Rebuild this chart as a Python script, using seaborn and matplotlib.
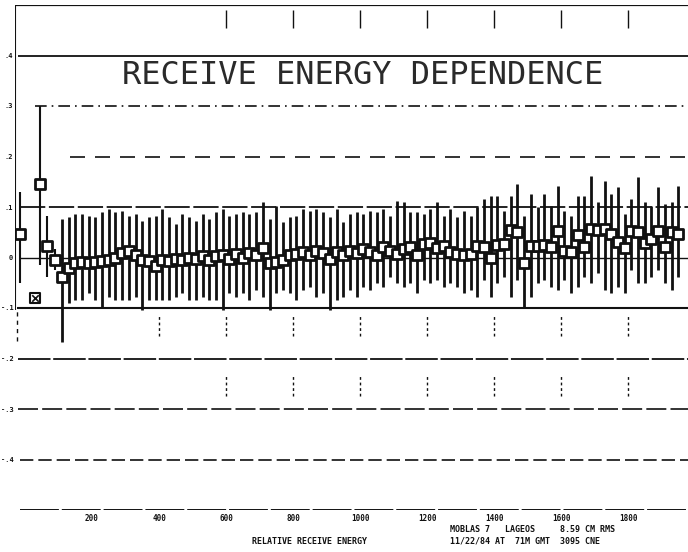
import numpy as np
import pandas as pd
import matplotlib
matplotlib.use("Agg")
import matplotlib.pyplot as plt
import seaborn as sns

# ---------------- data ----------------
energy = [110, 130, 150, 170, 190, 210, 230, 250, 270, 290,
          310, 330, 350, 370, 390, 410, 430, 450, 470, 490,
          510, 530, 550, 570, 590, 610, 630, 650, 670, 690,
          710, 730, 750, 770, 790, 810, 830, 850, 870, 890,
          910, 930, 950, 970, 990, 1010, 1030, 1050, 1070, 1090,
          1110, 1130, 1150, 1170, 1190, 1210, 1230, 1250, 1270, 1290,
          1310, 1330, 1350, 1370, 1390, 1410, 1430, 1450, 1470, 1490,
          1510, 1530, 1550, 1570, 1590, 1610, 1630, 1650, 1670, 1690,
          1710, 1730, 1750, 1770, 1790, 1810, 1830, 1850, 1870, 1890,
          1910, 1930, 1950]
residual = [-0.038, -0.020, -0.010, -0.008, -0.010, -0.008, -0.006, -0.004, 0.000, 0.008,
            0.012, 0.004, -0.004, -0.006, -0.016, -0.004, -0.006, -0.002, -0.004, 0.000,
            -0.002, 0.002, -0.004, 0.002, 0.004, -0.002, 0.006, 0.000, 0.008, 0.004,
            0.018, -0.010, -0.008, -0.004, 0.004, 0.006, 0.010, 0.004, 0.012, 0.008,
            -0.002, 0.010, 0.004, 0.012, 0.008, 0.016, 0.010, 0.004, 0.020, 0.012,
            0.006, 0.016, 0.020, 0.004, 0.026, 0.028, 0.018, 0.022, 0.010, 0.006,
            0.004, 0.006, 0.022, 0.020, 0.000, 0.024, 0.026, 0.055, 0.050, -0.010,
            0.022, 0.022, 0.024, 0.020, 0.052, 0.012, 0.010, 0.044, 0.020, 0.056,
            0.054, 0.056, 0.046, 0.030, 0.018, 0.052, 0.050, 0.028, 0.036, 0.052,
            0.020, 0.050, 0.046]
err_high = [0.114, 0.100, 0.096, 0.094, 0.092, 0.088, 0.096, 0.100, 0.090, 0.084,
            0.070, 0.082, 0.076, 0.086, 0.098, 0.100, 0.086, 0.068, 0.090, 0.080,
            0.074, 0.084, 0.080, 0.088, 0.092, 0.084, 0.080, 0.090, 0.078, 0.086,
            0.092, 0.086, 0.110, 0.074, 0.076, 0.076, 0.086, 0.088, 0.084, 0.082,
            0.082, 0.086, 0.066, 0.074, 0.082, 0.070, 0.082, 0.086, 0.076, 0.070,
            0.106, 0.094, 0.070, 0.086, 0.060, 0.068, 0.092, 0.060, 0.086, 0.074,
            0.088, 0.076, 0.078, 0.096, 0.122, 0.098, 0.066, 0.066, 0.096, 0.092,
            0.104, 0.078, 0.102, 0.082, 0.090, 0.080, 0.072, 0.078, 0.102, 0.106,
            0.056, 0.096, 0.080, 0.110, 0.068, 0.064, 0.110, 0.082, 0.066, 0.088,
            0.086, 0.060, 0.096]
err_low = [0.130, 0.070, 0.074, 0.076, 0.060, 0.076, 0.092, 0.074, 0.084, 0.092,
           0.096, 0.082, 0.100, 0.078, 0.068, 0.080, 0.078, 0.076, 0.066, 0.084,
           0.082, 0.080, 0.080, 0.086, 0.108, 0.068, 0.084, 0.070, 0.092, 0.068,
           0.096, 0.094, 0.062, 0.060, 0.074, 0.090, 0.074, 0.062, 0.090, 0.078,
           0.102, 0.094, 0.082, 0.076, 0.086, 0.074, 0.074, 0.054, 0.078, 0.050,
           0.056, 0.074, 0.070, 0.074, 0.070, 0.078, 0.062, 0.080, 0.060, 0.064,
           0.074, 0.070, 0.100, 0.064, 0.078, 0.074, 0.064, 0.134, 0.094, 0.090,
           0.100, 0.072, 0.068, 0.078, 0.116, 0.056, 0.080, 0.102, 0.058, 0.106,
           0.084, 0.120, 0.116, 0.088, 0.088, 0.076, 0.100, 0.078, 0.074, 0.076,
           0.070, 0.114, 0.084]

# leading low-energy bins
lead_energy = [-15, 45, 66, 90]
lead_residual = [0.046, 0.146, 0.022, -0.004]
lead_err_high = [0.084, 0.154, 0.060, 0.020]
lead_err_low = [0.096, 0.160, 0.060, 0.020]

# rejected bin (boxed cross)
rejected_energy = [30]
rejected_residual = [-0.080]

x_ticks = [200, 400, 600, 800, 1000, 1200, 1400, 1600, 1800]
x_tick_labels = ["200", "400", "600", "800", "1000", "1200", "1400", "1600", "1800"]
y_ticks = [0.4, 0.3, 0.2, 0.1, 0.0, -0.1, -0.2, -0.3, -0.4]
y_tick_labels = [".4", ".3", ".2", ".1", "0", "-.1", "-.2", "-.3", "-.4"]

title = "RECEIVE ENERGY DEPENDENCE"
x_label = "RELATIVE RECEIVE ENERGY"
info_line1 = "MOBLAS 7   LAGEOS     8.59 CM RMS"
info_line2 = "11/22/84 AT  71M GMT  3095 CNE"

# ---------------- figure ----------------
sns.set_style("white")
ink = "#111111"
W, H = 688, 552
fig = plt.figure(figsize=(W / 100, H / 100), dpi=100)
ax = fig.add_axes([15 / W, 42 / H, 673 / W, 505 / H])
x_min, x_max = -30, 1979
ax.set_xlim(x_min, x_max)
ax.set_ylim(-0.5, 0.5)
for s in ax.spines.values():
    s.set_visible(False)

# frame / reference lines
ax.hlines(0.5, x_min, x_max, color=ink, lw=1.6)
ax.vlines(x_min + 1, -0.104, 0.5, color=ink, lw=1.5)
ax.vlines(x_min + 6, -0.165, -0.104, color=ink, lw=1.0, linestyles=(0, (3, 3)))
ax.hlines(0.4, -21, x_max, color=ink, lw=1.3)
ax.hlines(0.3, 30, x_max, color=ink, lw=1.2, linestyles=(0, (7, 3, 1, 3)))
ax.hlines(0.2, 134, x_max, color=ink, lw=1.2, linestyles=(0, (9, 6)))
ax.hlines(0.1, -15, x_max, color=ink, lw=1.3, linestyles=(0, (14, 2)))
ax.hlines(0.0, -15, x_max, color=ink, lw=1.0)
ax.hlines(-0.1, -24, x_max, color=ink, lw=1.5)
ax.hlines(-0.2, -21, x_max, color=ink, lw=1.3, linestyles=(0, (18, 1.5)))
ax.hlines(-0.3, -21, x_max, color=ink, lw=1.2, linestyles=(0, (12, 2.5)))
ax.hlines(-0.4, -15, x_max, color=ink, lw=1.2, linestyles=(0, (8, 3)))
ax.hlines(-0.5, -15, x_max, color=ink, lw=1.4, linestyles=(0, (20, 1.5)))

# sparse vertical grid fragments at the x ticks
ax.vlines(x_ticks[2:], 0.455, 0.49, color=ink, lw=1.0)
ax.vlines(x_ticks[1:], -0.155, -0.115, color=ink, lw=1.0, linestyles=(0, (2, 2)))
ax.vlines(x_ticks[2:], -0.275, -0.235, color=ink, lw=1.0, linestyles=(0, (2, 2)))

# error bars
ax.errorbar(energy, residual, yerr=[err_low, err_high], fmt="none",
            ecolor=ink, elinewidth=2.0, capsize=0, zorder=2)
ax.errorbar(lead_energy, lead_residual, yerr=[lead_err_low, lead_err_high], fmt="none",
            ecolor=ink, elinewidth=1.5, capsize=0, zorder=2)

# markers
df = pd.DataFrame({"energy": lead_energy + energy,
                   "residual": lead_residual + residual})
sns.scatterplot(data=df, x="energy", y="residual", marker="s", s=52,
                facecolor="white", edgecolor=ink, linewidth=2.0, zorder=3, ax=ax)
rej = pd.DataFrame({"energy": rejected_energy, "residual": rejected_residual})
sns.scatterplot(data=rej, x="energy", y="residual", marker="s", s=48,
                facecolor="white", edgecolor=ink, linewidth=1.5, zorder=3, ax=ax)
sns.scatterplot(data=rej, x="energy", y="residual", marker="x", s=22,
                color=ink, linewidth=1.2, zorder=4, ax=ax)

# ticks
ax.set_xticks(x_ticks)
ax.set_xticklabels(x_tick_labels, family="DejaVu Sans Mono", fontsize=5.5,
                   fontweight="bold", color=ink)
ax.set_yticks(y_ticks)
ax.set_yticklabels(y_tick_labels, family="DejaVu Sans Mono", fontsize=5,
                   fontweight="bold", color=ink)
ax.tick_params(axis="x", length=0, pad=3)
ax.tick_params(axis="y", length=0, pad=1.2)
ax.set_xlabel("")
ax.set_ylabel("")

# texts
ax.text(1009, 0.36, title, ha="center", va="center",
        family="DejaVu Sans Mono", fontsize=23, color="#2a2a2a")
fig.text(310 / W, 1 - 541 / H, x_label, ha="center", va="center",
         family="DejaVu Sans Mono", fontsize=6, fontweight="bold", color=ink)
fig.text(450 / W, 1 - 529 / H, info_line1, ha="left", va="center",
         family="DejaVu Sans Mono", fontsize=6, fontweight="bold", color=ink)
fig.text(450 / W, 1 - 541 / H, info_line2, ha="left", va="center",
         family="DejaVu Sans Mono", fontsize=6, fontweight="bold", color=ink)

fig.savefig("out.png", dpi=100, facecolor="white")
